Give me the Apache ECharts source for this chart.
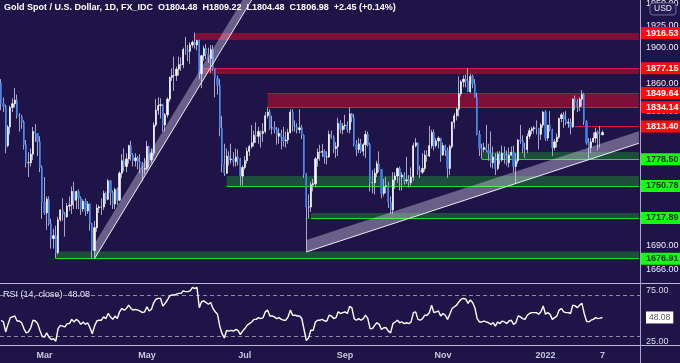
<!DOCTYPE html>
<html><head><meta charset="utf-8">
<script src="https://cdn.jsdelivr.net/npm/echarts@6/dist/echarts.min.js"></script>
<style>html,body{margin:0;padding:0;background:#1f1447;}#c{width:680px;height:363px;}</style>
</head><body><div id="c"></div>
<script>
// [date, open, high, low, close]
const ohlc = [
['2021-02-02',1861,1865,1831,1838],['2021-02-03',1838,1845,1829,1835],['2021-02-04',1835,1837,1785,1793],['2021-02-05',1793,1815,1791,1813],
['2021-02-08',1813,1836,1805,1834],['2021-02-09',1834,1844,1829,1838],['2021-02-10',1838,1855,1834,1842],['2021-02-11',1842,1848,1822,1825],['2021-02-12',1825,1828,1808,1824],
['2021-02-15',1824,1826,1811,1818],['2021-02-16',1818,1820,1789,1794],['2021-02-17',1794,1799,1770,1775],['2021-02-18',1775,1786,1760,1775],['2021-02-19',1775,1790,1771,1784],
['2021-02-22',1784,1813,1778,1808],['2021-02-23',1808,1816,1797,1806],['2021-02-24',1806,1806,1782,1797],['2021-02-25',1797,1803,1765,1770],['2021-02-26',1770,1772,1717,1734],
['2021-03-01',1734,1760,1721,1723],['2021-03-02',1723,1740,1706,1737],['2021-03-03',1737,1740,1710,1712],['2021-03-04',1712,1717,1687,1697],['2021-03-05',1697,1707,1687,1700],
['2021-03-08',1700,1710,1677,1683],['2021-03-09',1683,1719,1681,1716],['2021-03-10',1716,1727,1714,1726],['2021-03-11',1726,1738,1715,1722],['2021-03-12',1722,1724,1699,1719],
['2021-03-15',1719,1733,1718,1730],['2021-03-16',1730,1740,1725,1731],['2021-03-17',1731,1750,1722,1745],['2021-03-18',1745,1755,1727,1736],['2021-03-19',1736,1746,1727,1745],
['2021-03-22',1745,1747,1727,1738],['2021-03-23',1738,1740,1721,1727],['2021-03-24',1727,1737,1724,1735],['2021-03-25',1735,1738,1720,1725],['2021-03-26',1725,1735,1722,1732],
['2021-03-29',1732,1733,1705,1712],['2021-03-30',1712,1713,1677,1685],['2021-03-31',1685,1715,1678,1708],['2021-04-01',1708,1732,1704,1728],['2021-04-02',1728,1731,1723,1729],
['2021-04-05',1729,1738,1721,1729],['2021-04-06',1729,1746,1726,1743],['2021-04-07',1743,1745,1732,1737],['2021-04-08',1737,1758,1736,1756],['2021-04-09',1756,1757,1731,1744],
['2021-04-12',1744,1746,1727,1732],['2021-04-13',1732,1749,1727,1747],['2021-04-14',1747,1749,1731,1736],['2021-04-15',1736,1766,1735,1764],['2021-04-16',1764,1784,1759,1777],
['2021-04-19',1777,1790,1766,1771],['2021-04-20',1771,1785,1765,1779],['2021-04-21',1779,1794,1774,1793],['2021-04-22',1793,1798,1777,1783],['2021-04-23',1783,1785,1771,1777],
['2021-04-26',1777,1785,1771,1780],['2021-04-27',1780,1782,1768,1776],['2021-04-28',1776,1784,1764,1774],['2021-04-29',1774,1776,1756,1768],['2021-04-30',1768,1780,1763,1769],
['2021-05-03',1769,1798,1767,1792],['2021-05-04',1792,1793,1770,1778],['2021-05-05',1778,1790,1775,1785],['2021-05-06',1785,1818,1782,1815],['2021-05-07',1815,1843,1813,1831],
['2021-05-10',1831,1845,1826,1836],['2021-05-11',1836,1844,1822,1837],['2021-05-12',1837,1838,1808,1815],['2021-05-13',1815,1828,1808,1826],['2021-05-14',1826,1845,1823,1843],
['2021-05-17',1843,1868,1840,1867],['2021-05-18',1867,1877,1863,1869],['2021-05-19',1869,1890,1852,1869],['2021-05-20',1869,1879,1863,1876],['2021-05-21',1876,1890,1869,1881],
['2021-05-24',1881,1889,1874,1881],['2021-05-25',1881,1900,1877,1898],['2021-05-26',1898,1912,1892,1897],['2021-05-27',1897,1903,1885,1896],['2021-05-28',1896,1906,1882,1903],
['2021-05-31',1903,1908,1900,1906],['2021-06-01',1906,1917,1899,1903],['2021-06-02',1903,1909,1897,1908],['2021-06-03',1908,1909,1865,1871],['2021-06-04',1871,1892,1855,1891],
['2021-06-07',1891,1902,1885,1899],['2021-06-08',1899,1904,1887,1893],['2021-06-09',1893,1900,1883,1888],['2021-06-10',1888,1903,1872,1898],['2021-06-11',1898,1903,1874,1877],
['2021-06-14',1877,1877,1845,1866],['2021-06-15',1866,1869,1848,1858],['2021-06-16',1858,1865,1803,1812],['2021-06-17',1812,1825,1765,1773],['2021-06-18',1773,1795,1761,1764],
['2021-06-21',1764,1790,1763,1782],['2021-06-22',1782,1787,1772,1778],['2021-06-23',1778,1795,1774,1779],['2021-06-24',1779,1786,1771,1776],['2021-06-25',1776,1790,1771,1781],
['2021-06-28',1781,1789,1772,1779],['2021-06-29',1779,1780,1751,1761],['2021-06-30',1761,1772,1751,1770],['2021-07-01',1770,1782,1768,1777],['2021-07-02',1777,1791,1774,1787],
['2021-07-05',1787,1794,1782,1792],['2021-07-06',1792,1815,1790,1796],['2021-07-07',1796,1809,1792,1804],['2021-07-08',1804,1818,1796,1803],['2021-07-09',1803,1813,1795,1808],
['2021-07-12',1808,1809,1791,1806],['2021-07-13',1806,1817,1797,1808],['2021-07-14',1808,1829,1806,1825],['2021-07-15',1825,1834,1822,1829],['2021-07-16',1829,1832,1810,1812],
['2021-07-19',1812,1825,1805,1812],['2021-07-20',1812,1819,1806,1810],['2021-07-21',1810,1813,1794,1803],['2021-07-22',1803,1812,1795,1806],['2021-07-23',1806,1810,1789,1802],
['2021-07-26',1802,1813,1792,1798],['2021-07-27',1798,1808,1791,1799],['2021-07-28',1799,1811,1795,1807],['2021-07-29',1807,1832,1806,1829],['2021-07-30',1829,1832,1808,1814],
['2021-08-02',1814,1820,1808,1813],['2021-08-03',1813,1817,1806,1810],['2021-08-04',1810,1832,1806,1812],['2021-08-05',1812,1815,1800,1804],['2021-08-06',1804,1805,1759,1763],
['2021-08-09',1763,1764,1684,1729],['2021-08-10',1729,1742,1717,1729],['2021-08-11',1729,1755,1724,1752],['2021-08-12',1752,1758,1745,1753],['2021-08-13',1753,1781,1749,1779],
['2021-08-16',1779,1790,1771,1786],['2021-08-17',1786,1794,1777,1786],['2021-08-18',1786,1795,1781,1787],['2021-08-19',1787,1789,1774,1781],['2021-08-20',1781,1787,1773,1781],
['2021-08-23',1781,1809,1780,1805],['2021-08-24',1805,1809,1800,1802],['2021-08-25',1802,1804,1785,1790],['2021-08-26',1790,1797,1780,1792],['2021-08-27',1792,1823,1782,1817],
['2021-08-30',1817,1820,1806,1810],['2021-08-31',1810,1817,1805,1814],['2021-09-01',1814,1826,1810,1815],['2021-09-02',1815,1819,1807,1810],['2021-09-03',1810,1834,1806,1827],
['2021-09-06',1827,1828,1818,1823],['2021-09-07',1823,1827,1792,1794],['2021-09-08',1794,1799,1782,1789],['2021-09-09',1789,1801,1785,1795],['2021-09-10',1795,1800,1785,1787],
['2021-09-13',1787,1796,1782,1794],['2021-09-14',1794,1809,1780,1805],['2021-09-15',1805,1808,1792,1794],['2021-09-16',1794,1796,1745,1754],['2021-09-17',1754,1767,1743,1754],
['2021-09-20',1754,1769,1742,1764],['2021-09-21',1764,1777,1760,1774],['2021-09-22',1774,1787,1765,1768],['2021-09-23',1768,1768,1738,1743],['2021-09-24',1743,1758,1740,1750],
['2021-09-27',1750,1760,1743,1751],['2021-09-28',1751,1755,1728,1734],['2021-09-29',1734,1740,1722,1726],['2021-09-30',1726,1765,1722,1757],['2021-10-01',1757,1765,1748,1761],
['2021-10-04',1761,1770,1754,1769],['2021-10-05',1769,1771,1746,1760],['2021-10-06',1760,1765,1746,1762],['2021-10-07',1762,1765,1752,1756],['2021-10-08',1756,1781,1753,1757],
['2021-10-11',1757,1762,1749,1754],['2021-10-12',1754,1770,1751,1760],['2021-10-13',1760,1796,1756,1793],['2021-10-14',1793,1801,1791,1796],['2021-10-15',1796,1796,1762,1767],
['2021-10-18',1767,1772,1759,1765],['2021-10-19',1765,1785,1763,1769],['2021-10-20',1769,1788,1766,1783],['2021-10-21',1783,1788,1776,1782],['2021-10-22',1782,1814,1781,1793],
['2021-10-25',1793,1810,1790,1807],['2021-10-26',1807,1810,1788,1793],['2021-10-27',1793,1801,1791,1798],['2021-10-28',1798,1803,1790,1801],['2021-10-29',1801,1801,1776,1783],
['2021-11-01',1783,1796,1782,1793],['2021-11-02',1793,1794,1782,1788],['2021-11-03',1788,1791,1759,1769],['2021-11-04',1769,1794,1762,1792],['2021-11-05',1792,1819,1790,1818],
['2021-11-08',1818,1828,1811,1825],['2021-11-09',1825,1834,1820,1832],['2021-11-10',1832,1868,1824,1849],['2021-11-11',1849,1864,1846,1862],['2021-11-12',1862,1869,1856,1865],
['2021-11-15',1865,1870,1856,1863],['2021-11-16',1863,1877,1851,1851],['2021-11-17',1851,1871,1850,1868],['2021-11-18',1868,1870,1855,1860],['2021-11-19',1860,1865,1845,1845],
['2021-11-22',1845,1850,1804,1805],['2021-11-23',1805,1809,1782,1790],['2021-11-24',1790,1795,1779,1789],['2021-11-25',1789,1796,1786,1791],['2021-11-26',1791,1815,1786,1788],
['2021-11-29',1788,1795,1777,1785],['2021-11-30',1785,1808,1770,1775],['2021-12-01',1775,1792,1769,1781],['2021-12-02',1781,1785,1762,1769],['2021-12-03',1769,1787,1767,1784],
['2021-12-06',1784,1787,1773,1778],['2021-12-07',1778,1793,1776,1785],['2021-12-08',1785,1792,1774,1783],['2021-12-09',1783,1788,1772,1775],['2021-12-10',1775,1791,1770,1783],
['2021-12-13',1783,1792,1782,1786],['2021-12-14',1786,1793,1765,1771],['2021-12-15',1771,1785,1753,1777],['2021-12-16',1777,1800,1774,1799],['2021-12-17',1799,1815,1795,1798],
['2021-12-20',1798,1804,1785,1790],['2021-12-21',1790,1796,1780,1789],['2021-12-22',1789,1806,1785,1803],['2021-12-23',1803,1812,1800,1809],['2021-12-24',1809,1813,1805,1811],
['2021-12-27',1811,1814,1806,1812],['2021-12-28',1812,1820,1805,1811],['2021-12-29',1811,1812,1789,1805],['2021-12-30',1805,1817,1799,1815],['2021-12-31',1815,1830,1812,1829],
['2022-01-03',1829,1831,1798,1801],['2022-01-04',1801,1815,1798,1815],['2022-01-05',1815,1830,1808,1810],['2022-01-06',1810,1811,1782,1791],['2022-01-07',1791,1800,1788,1797],
['2022-01-10',1797,1806,1791,1802],['2022-01-11',1802,1823,1800,1822],['2022-01-12',1822,1828,1818,1826],['2022-01-13',1826,1829,1812,1821],['2022-01-14',1821,1830,1815,1817],
['2022-01-17',1817,1822,1812,1818],['2022-01-18',1818,1822,1805,1813],['2022-01-19',1813,1844,1812,1843],['2022-01-20',1843,1847,1831,1840],['2022-01-21',1840,1843,1829,1835],
['2022-01-24',1835,1845,1830,1843],['2022-01-25',1843,1853,1835,1848],['2022-01-26',1848,1850,1815,1819],['2022-01-27',1819,1820,1794,1796],['2022-01-28',1796,1801,1778.5,1791],
['2022-01-31',1791,1801,1785,1797],['2022-02-01',1797,1807,1796,1801],['2022-02-02',1801,1812,1796,1807],['2022-02-03',1807,1809,1788,1805],['2022-02-04',1805,1814,1791,1804.53],
['2022-02-07',1804.48,1809.22,1804.48,1806.98]
];
const rsiValues = [
45.4,43.7,33.9,41.3,47.9,48.7,49.5,44.6,44.6,42.9,37.2,33.0,33.9,38.0,45.4,44.6,42.1,35.5,29.7,28.9,
33.0,28.9,26.4,27.3,24.8,37.2,40.4,39.6,38.8,42.1,42.1,46.2,43.7,46.2,44.6,41.3,43.7,41.3,42.9,38.0,
32.2,39.6,44.6,45.4,45.4,48.7,47.0,52.0,48.7,46.2,49.5,47.0,53.6,56.9,55.3,56.9,60.2,56.9,55.3,56.1,
55.3,54.4,52.8,53.6,58.6,54.4,56.1,62.7,66.0,66.8,66.8,59.4,61.9,65.2,69.3,70.1,70.1,70.9,71.7,71.7,
74.2,73.4,73.4,74.2,77.5,76.7,77.5,57.7,63.5,64.3,62.7,61.0,62.7,56.9,53.6,51.2,39.6,32.2,28.0,35.5,
34.7,35.5,34.7,36.3,35.5,31.4,34.7,37.2,40.4,42.1,43.7,46.2,46.2,47.9,47.0,47.9,53.6,55.3,49.5,49.5,
48.7,47.0,47.9,46.2,45.4,45.4,48.7,55.3,50.3,50.3,49.5,49.5,47.0,36.3,25.5,28.1,35.5,35.5,43.7,45.4,
45.4,46.2,44.6,44.6,50.3,49.5,47.0,47.9,53.6,52.0,52.8,53.6,52.0,59.0,57.5,47.0,45.4,47.0,45.4,47.0,
50.3,47.0,37.2,37.2,40.4,42.9,41.3,36.3,38.0,38.0,34.7,33.0,42.1,43.7,45.4,42.9,43.7,42.1,42.9,42.1,
43.7,52.8,53.6,46.2,45.4,47.0,50.3,50.3,52.8,60.0,52.8,53.6,54.4,49.5,52.0,50.3,46.2,51.2,56.9,58.6,
60.2,63.5,66.0,66.8,66.0,61.9,65.2,62.7,57.7,47.0,43.7,43.7,44.6,43.7,42.9,41.3,42.9,39.6,43.7,42.1,
44.6,43.7,42.1,44.6,45.4,41.3,42.9,49.5,48.7,47.0,46.2,50.3,52.0,52.8,52.8,52.8,51.2,53.6,59.4,51.2,
52.8,51.2,46.2,47.9,49.5,55.3,56.9,53.6,52.8,52.8,52.0,60.2,59.4,57.7,60.2,61.9,52.0,44.6,43.7,45.4,
46.2,47.9,47.0,47.5,48.08
];
const blankSlots = 16;
const timeTicks = [['2021-03-01','Mar'],['2021-05-03','May'],['2021-07-01','Jul'],['2021-09-01','Sep'],['2021-11-01','Nov'],['2022-01-03','2022'],['2022-02-07','7']];
const priceTicks = [1950, 1925, 1900, 1860, 1830, 1690, 1666];
const rsiTicks = [75, 25];
const rsiBands = [70, 30];
const rsiLast = 48.08;
const resistanceZones = [['2021-06-01',1908.7,1916.53],['2021-06-07',1870.7,1877.15],['2021-07-15',1834.14,1849.64]];
const resistanceLines = [['2021-06-07',1877.15],['2021-07-15',1849.64],['2021-07-15',1834.14],['2022-01-20',1813.40]];
const resistanceTags = [1916.53,1877.15,1849.64,1834.14,1813.40];
const supportZones = [['2021-11-24',1778.50,1786.3],['2021-06-21',1750.78,1761.1],['2021-08-11',1717.89,1723.0],['2021-03-08',1676.91,1684.0]];
const supportLines = [['2021-11-24',1778.50],['2021-06-21',1750.78],['2021-08-11',1717.89],['2021-03-08',1676.91]];
const supportTags = [1778.50,1750.78,1717.89,1676.91];
// [start date, start price, end date, end price]
const trendlines = [['2021-03-31',1677,'2021-07-06',1954.4],['2021-08-09',1683.6,'+16',1795.5]];
const titleText = 'Gold Spot / U.S. Dollar, 1D, FX_IDC  O1804.48  H1809.22  L1804.48  C1806.98  +2.45 (+0.14%)';

// ---------------- build ----------------
const cats = ohlc.map(r => r[0]);
for (let k = 1; k <= blankSlots; k++) cats.push('+' + k);
const lastIdx = cats.length - 1;
const idx = d => cats.indexOf(d);
const wickData = ohlc.map(r => [r[1], r[4], r[3], r[2]]);
const bodyData = ohlc.map(r => [r[1], r[4], Math.min(r[1], r[4]), Math.max(r[1], r[4])]);
const tickMap = {}; timeTicks.forEach(t => tickMap[t[0]] = t[1]);
const FONT = '"Liberation Sans Narrow","Liberation Sans",Arial,sans-serif';
const BANDTH = [15, 12];
const NOLINE = {color: 'rgba(0,0,0,0)', width: 0};

const chart = echarts.init(document.getElementById('c'), null, {renderer: 'canvas'});
const option = {
  backgroundColor: '#1f1447',
  animation: false,
  grid: [
    {left: 0, top: 0, width: 640, height: 283},
    {left: 0, top: 284, width: 640, height: 61}
  ],
  xAxis: [
    {type: 'category', gridIndex: 0, data: cats, boundaryGap: true, axisLine: {show: false}, axisTick: {show: false}, axisLabel: {show: false}, splitLine: {show: false}},
    {type: 'category', gridIndex: 1, data: cats, boundaryGap: true, axisLine: {show: false}, axisTick: {show: false}, splitLine: {show: false},
     axisLabel: {show: true, interval: (i, v) => tickMap[v] !== undefined, formatter: v => tickMap[v] || '', color: '#c9c6dc', fontFamily: FONT, fontWeight: 'bold', fontSize: 9, margin: 6, hideOverlap: false}}
  ],
  yAxis: [
    {type: 'log', gridIndex: 0, min: 1653.0, max: 1954.4, position: 'right', axisLine: {show: false}, axisTick: {show: false}, axisLabel: {show: false}, splitLine: {show: false}},
    {type: 'value', gridIndex: 1, min: 21.1, max: 80.9, position: 'right', axisLine: {show: false}, axisTick: {show: false}, axisLabel: {show: false}, splitLine: {show: false}}
  ],
  series: [
    // zones and price tick labels
    {
      type: 'line', xAxisIndex: 0, yAxisIndex: 0, data: [], clip: false, silent: true, z: 1,
      markArea: {
        silent: true, z: 1,
        data: resistanceZones.map(z => [{xAxis: idx(z[0]), yAxis: z[1], itemStyle: {color: '#7d1036'}}, {xAxis: lastIdx, yAxis: z[2]}])
          .concat(supportZones.map(z => [{xAxis: idx(z[0]), yAxis: z[1], itemStyle: {color: '#1d4e3b'}}, {xAxis: lastIdx, yAxis: z[2]}]))
      },
      markLine: {
        silent: true, symbol: 'none', z: 2,
        lineStyle: NOLINE,
        label: {position: 'end', distance: 6, color: '#eceaf4', fontFamily: FONT, fontSize: 9, formatter: p => p.value.toFixed(2)},
        data: priceTicks.map(v => ({yAxis: v}))
      }
    },
    // level lines
    {
      type: 'line', xAxisIndex: 0, yAxisIndex: 0, data: [], clip: false, silent: true, z: 2,
      markLine: {
        silent: true, symbol: 'none', z: 2, label: {show: false},
        data: resistanceLines.map(l => [{xAxis: idx(l[0]), yAxis: l[1], lineStyle: {color: l[1] === 1849.64 ? '#a8183f' : '#e0143c', width: 1, type: 'solid'}}, {xAxis: lastIdx, yAxis: l[1]}])
          .concat(supportLines.map(l => [{xAxis: idx(l[0]), yAxis: l[1], lineStyle: {color: '#1ee21e', width: 1, type: 'solid'}}, {xAxis: lastIdx, yAxis: l[1]}]))
      }
    },
    // tags
    {
      type: 'line', xAxisIndex: 0, yAxisIndex: 0, data: [], clip: false, silent: true, z: 20,
      markLine: {
        silent: true, symbol: 'none', z: 20, lineStyle: NOLINE,
        data: resistanceTags.map(v => ({yAxis: v, label: {show: true, position: 'end', distance: 0, formatter: v.toFixed(2), backgroundColor: '#ff0a0a', color: '#ffffff', fontFamily: FONT, fontWeight: 'bold', fontSize: 9, padding: [2, 5, 1, 6]}}))
          .concat(supportTags.map(v => ({yAxis: v, label: {show: true, position: 'end', distance: 0, formatter: v.toFixed(2), backgroundColor: '#11ff11', color: '#15251a', fontFamily: FONT, fontWeight: 'bold', fontSize: 9, padding: [2, 5, 1, 6]}})))
      }
    },
    // wicks
    {
      type: 'candlestick', xAxisIndex: 0, yAxisIndex: 0, data: wickData, barWidth: 1, z: 3, clip: true, silent: true,
      itemStyle: {color: '#aaa5c6', color0: '#aaa5c6', borderColor: '#aaa5c6', borderColor0: '#aaa5c6', borderColorDoji: '#aaa5c6', borderWidth: 1}
    },
    // bodies
    {
      type: 'candlestick', xAxisIndex: 0, yAxisIndex: 0, data: bodyData, barWidth: 1.7, z: 4, clip: true, silent: true,
      itemStyle: {color: '#ffffff', color0: '#3f7fe8', borderColor: '#ffffff', borderColor0: '#3f7fe8', borderColorDoji: '#ffffff', borderWidth: 0.6}
    },
    // trendline channels
    {
      type: 'custom', xAxisIndex: 0, yAxisIndex: 0, z: 6, clip: true, silent: true,
      encode: {x: [0, 2], y: [1, 3]},
      data: trendlines.map(t => [idx(t[0]), t[1], idx(t[2]), t[3]]),
      renderItem: (params, api) => {
        const a = api.coord([api.value(0), api.value(1)]);
        const b = api.coord([api.value(2), api.value(3)]);
        const th = BANDTH[params.dataIndex];
        return {type: 'group', children: [
          {type: 'polygon', shape: {points: [a, b, [b[0], b[1] - th], [a[0], a[1] - th]]}, style: {fill: 'rgba(225,220,245,0.38)'}},
          {type: 'line', shape: {x1: a[0], y1: a[1], x2: b[0], y2: b[1]}, style: {stroke: 'rgba(255,255,255,0.9)', lineWidth: 1}}
        ]};
      }
    },
    // RSI
    {
      type: 'line', xAxisIndex: 1, yAxisIndex: 1, data: rsiValues, showSymbol: false, symbol: 'none', silent: true, z: 5,
      lineStyle: {color: '#ffffff', width: 1.4},
      markLine: {
        silent: true, symbol: 'none', z: 3,
        data: rsiBands.map(v => ({yAxis: v, lineStyle: {color: '#8d88a6', width: 1, type: [4, 3]}, label: {show: false}}))
          .concat(rsiTicks.map(v => ({yAxis: v, lineStyle: NOLINE, label: {show: true, position: 'end', distance: 6, formatter: v.toFixed(2), color: '#dcdae8', fontFamily: FONT, fontSize: 9}})))
          .concat([{yAxis: rsiLast, lineStyle: NOLINE, label: {show: true, position: 'end', distance: 6, formatter: rsiLast.toFixed(2), color: '#555566', backgroundColor: '#ffffff', fontFamily: FONT, fontSize: 8.5, padding: [2, 3, 1, 3]}}])
      }
    }
  ],
  graphic: [
    {type: 'line', shape: {x1: 0, y1: 283.5, x2: 680, y2: 283.5}, style: {stroke: '#bdb8d8', lineWidth: 1}, z: 30},
    {type: 'line', shape: {x1: 0, y1: 345.5, x2: 680, y2: 345.5}, style: {stroke: '#bdb8d8', lineWidth: 1}, z: 30},
    {type: 'line', shape: {x1: 640.5, y1: 0, x2: 640.5, y2: 363}, style: {stroke: '#a9a4c4', lineWidth: 1}, z: 30},
    {type: 'text', left: 4, top: 3, z: 40, style: {text: titleText, fill: '#ffffff', font: 'bold 9px ' + FONT}},
    {type: 'text', left: 3, top: 290, z: 40, style: {text: 'RSI (14, close)  ' + rsiLast.toFixed(2), fill: '#e6e4f0', font: '9px ' + FONT}},
    {type: 'rect', shape: {x: 650, y: 3, width: 26, height: 12, r: 3}, style: {fill: '#241a52', stroke: '#6f6a90', lineWidth: 1}, z: 40},
    {type: 'text', x: 663, y: 9, z: 41, style: {text: 'USD', fill: '#e8e6f2', font: '8.5px ' + FONT, textAlign: 'center', textVerticalAlign: 'middle'}}
  ]
};
chart.setOption(option);
</script>
</body></html>
